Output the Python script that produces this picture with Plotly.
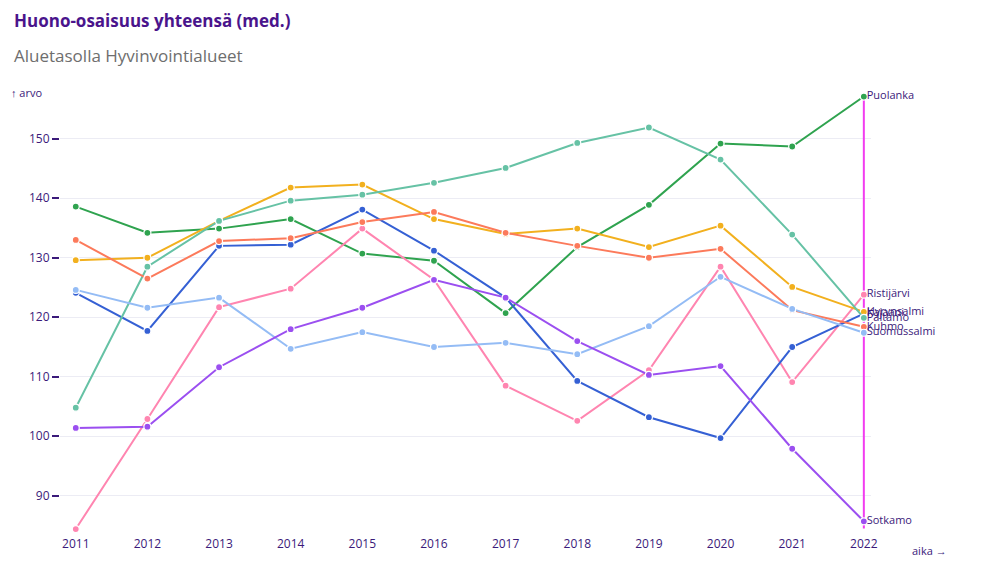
import plotly.graph_objects as go

years = list(range(2011, 2023))

names = ["Puolanka", "Ristijärvi", "Kajaani", "Hyrynsalmi", "Paltamo", "Kuhmo", "Suomussalmi", "Sotkamo"]
colors = ["#2fa34f", "#ff85b0", "#3560d4", "#f2b01e", "#66c2a5", "#fc7a5b", "#94bcf5", "#9b4ff0"]

puolanka    = [138.6, 134.2, 134.9, 136.5, 130.7, 129.5, 120.7, 131.8, 138.9, 149.2, 148.7, 157.1]
ristijarvi  = [84.4, 102.9, 121.7, 124.8, 134.9, 126.3, 108.5, 102.6, 111.1, 128.5, 109.1, 123.8]
kajaani     = [124.1, 117.7, 132.0, 132.2, 138.1, 131.2, 123.3, 109.3, 103.2, 99.7, 115.0, 120.6]
hyrynsalmi  = [129.6, 130.0, 136.2, 141.8, 142.3, 136.5, 134.0, 134.9, 131.8, 135.4, 125.1, 120.9]
paltamo     = [104.8, 128.5, 136.2, 139.6, 140.6, 142.6, 145.1, 149.3, 151.9, 146.5, 133.9, 119.9]
kuhmo       = [133.0, 126.5, 132.8, 133.3, 136.0, 137.7, 134.2, 132.0, 130.0, 131.5, 121.2, 118.4]
suomussalmi = [124.6, 121.6, 123.3, 114.7, 117.5, 115.0, 115.7, 113.8, 118.5, 126.8, 121.4, 117.4]
sotkamo     = [101.4, 101.6, 111.6, 118.0, 121.6, 126.3, 123.3, 116.0, 110.3, 111.8, 97.9, 85.7]

series = [puolanka, ristijarvi, kajaani, hyrynsalmi, paltamo, kuhmo, suomussalmi, sotkamo]

title = "Huono-osaisuus yhteensä (med.)"
subtitle = "Aluetasolla Hyvinvointialueet"
y_ticks = [90, 100, 110, 120, 130, 140, 150]

txt_col = "#3b1a7a"
font_family = "Open Sans, Noto Sans, sans-serif"

# page has an 8px body margin; figure sized to fit the window
W, H = 992, 569
L, T, PW, PH = 52, 82, 811, 445
R = W - L - PW
B = H - T - PH

def px(xp):   # page x pixel -> paper x
    return (xp - 8 - L) / PW

def py(yp):   # page y pixel -> paper y
    return 1 - (yp - 8 - T) / PH

fig = go.Figure()

last_vals = [s[-1] for s in series]
fig.add_trace(go.Scatter(
    x=[years[-1], years[-1]], y=[min(last_vals) - 1.2, max(last_vals)],
    mode="lines", line=dict(color="#f23cf0", width=2), hoverinfo="skip",
    showlegend=False, cliponaxis=False))

for name, col, vals in zip(names, colors, series):
    fig.add_trace(go.Scatter(
        x=years, y=vals, mode="lines+markers", name=name,
        line=dict(color=col, width=2),
        marker=dict(color=col, size=7, line=dict(color="white", width=1.2)),
        showlegend=False, cliponaxis=False))

for name, col, vals in zip(names, colors, series):
    fig.add_trace(go.Scatter(
        x=[years[-1]], y=[vals[-1]], mode="text", text=[" " + name],
        textposition="middle right",
        textfont=dict(color=txt_col, size=11, family=font_family),
        hoverinfo="skip", showlegend=False, cliponaxis=False))

fig.update_layout(
    width=W, height=H,
    paper_bgcolor="white", plot_bgcolor="white",
    margin=dict(l=L, r=R, t=T, b=B, autoexpand=False),
    font=dict(family=font_family, color=txt_col, size=12),
    xaxis=dict(range=[2010.78, 2022.1], tickmode="array", tickvals=years,
               ticktext=[str(y) for y in years], showgrid=False, zeroline=False,
               showline=False, ticks="", automargin=False,
               tickfont=dict(size=12, color=txt_col)),
    yaxis=dict(range=[83.4, 158.2], tickmode="array", tickvals=y_ticks,
               showgrid=True, gridcolor="#ececf4", gridwidth=1, zeroline=False,
               showline=False, ticks="outside", ticklen=7, tickcolor=txt_col,
               tickwidth=1.5, automargin=False,
               tickfont=dict(size=12, color=txt_col)),
)

fig.add_annotation(text="<b>" + title + "</b>", xref="paper", yref="paper", x=px(12), y=py(20),
                   xanchor="left", yanchor="middle", showarrow=False,
                   font=dict(size=17, color="#4a148c", family=font_family))
fig.add_annotation(text=subtitle, xref="paper", yref="paper", x=px(12), y=py(56),
                   xanchor="left", yanchor="middle", showarrow=False,
                   font=dict(size=17, color="#6e6e6e", family=font_family))
fig.add_annotation(text="↑ arvo", xref="paper", yref="paper", x=px(9), y=py(93),
                   xanchor="left", yanchor="middle", showarrow=False,
                   font=dict(size=11, color=txt_col, family=font_family))
fig.add_annotation(text="aika →", xref="paper", yref="paper", x=px(910), y=py(550),
                   xanchor="left", yanchor="middle", showarrow=False,
                   font=dict(size=11, color=txt_col, family=font_family))

fig.write_html("out.html")
